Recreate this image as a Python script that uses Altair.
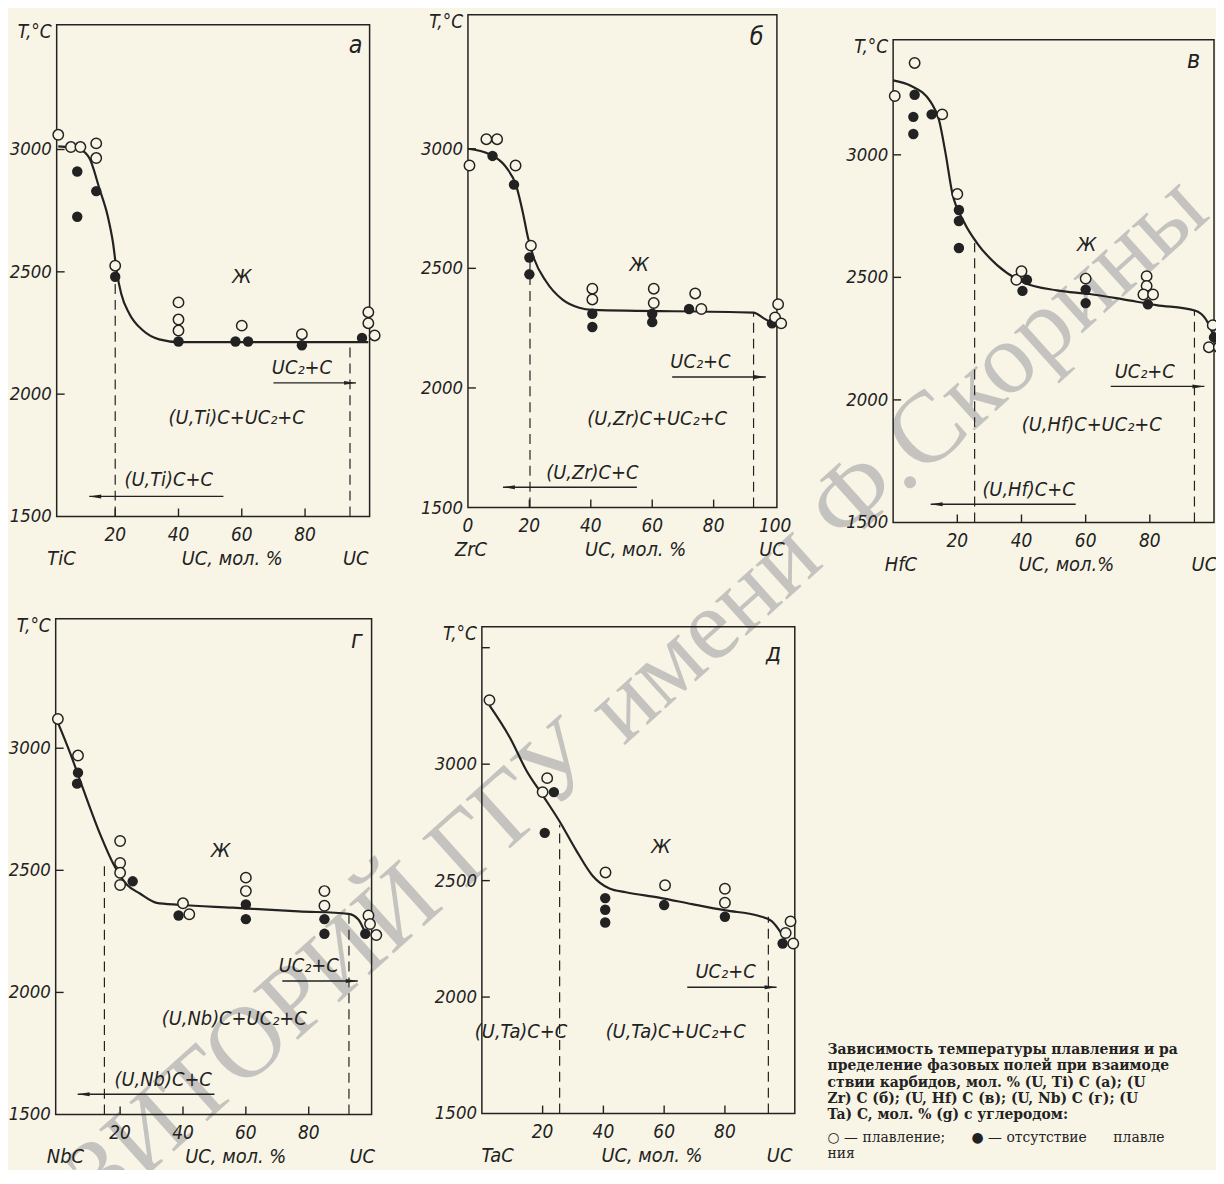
import altair as alt
import pandas as pd

BG = "#f8f5e6"
INK = "#222222"
FONT = "Liberation Sans Narrow, DejaVu Sans Condensed, Arial Narrow, sans-serif"
SERIF = "DejaVu Serif, Liberation Serif, serif"
WM_FONT = "Liberation Serif, Times New Roman, serif"

# ---------------- panel а : (U,Ti)C ----------------
A_OPEN_X = [2, 6, 9, 14, 14, 20, 40, 40, 40, 60, 79, 100, 100, 102]
A_OPEN_Y = [3060, 3010, 3010, 3025, 2965, 2525, 2375, 2305, 2260, 2280, 2245, 2335, 2290, 2240]
A_FILL_X = [8, 8, 14, 20, 40, 58, 62, 79, 98]
A_FILL_Y = [2910, 2725, 2830, 2480, 2215, 2215, 2215, 2200, 2230]
A_CURVE_X = [2, 8.8, 11.9, 15.1, 17.7, 19.3, 20.5, 21.9, 24.5, 28.7, 33.9, 40.2, 100]
A_CURVE_Y = [3013, 3000, 2963, 2836, 2724, 2619, 2500, 2410, 2328, 2261, 2224, 2213, 2213]

# ---------------- panel б : (U,Zr)C ----------------
B_OPEN_X = [0.5, 6, 9.5, 15.5, 20.5, 40.5, 40.5, 60.5, 60.5, 74, 76, 101, 100, 102]
B_OPEN_Y = [2930, 3040, 3040, 2930, 2595, 2415, 2370, 2415, 2355, 2395, 2330, 2350, 2295, 2270]
B_FILL_X = [8, 15, 20, 20, 40.5, 40.5, 60, 60, 72, 99]
B_FILL_Y = [2970, 2850, 2545, 2475, 2310, 2255, 2310, 2275, 2330, 2270]
B_CURVE_X = [0, 7, 12.4, 15.7, 17.8, 19.5, 21.6, 25.4, 30.8, 36.2, 40.5, 93, 96.2, 98.9]
B_CURVE_Y = [3000, 2977, 2923, 2846, 2738, 2631, 2538, 2446, 2369, 2335, 2326, 2315, 2292, 2272]

# ---------------- panel в : (U,Hf)C ----------------
V_OPEN_X = [0.5, 6.7, 15.3, 20, 38.4, 40, 60, 79, 79, 78, 81, 99.6, 98.4, 101.5]
V_OPEN_Y = [3240, 3375, 3165, 2840, 2490, 2525, 2495, 2505, 2465, 2430, 2430, 2305, 2215, 2215]
V_FILL_X = [6.7, 6.3, 6.3, 12, 20.5, 20.5, 20.5, 41.7, 40.3, 60, 60, 79.4, 100]
V_FILL_Y = [3245, 3155, 3085, 3165, 2775, 2730, 2620, 2490, 2445, 2450, 2395, 2390, 2255]
V_CURVE_X = [0, 5.5, 11.7, 14.3, 16.3, 18.4, 22, 26.2, 32.4, 40.7, 51, 61.3, 71.7, 82, 94, 97.5, 100]
V_CURVE_Y = [3304, 3282, 3216, 3142, 3009, 2846, 2728, 2639, 2550, 2479, 2447, 2432, 2410, 2387, 2365, 2328, 2257]

# ---------------- panel г : (U,Nb)C ----------------
G_OPEN_X = [0.2, 6.6, 20, 20, 20, 20, 40, 42, 60, 60, 85, 85, 99, 99.5, 101.5]
G_OPEN_Y = [3120, 2970, 2620, 2530, 2490, 2440, 2365, 2320, 2470, 2415, 2415, 2355, 2315, 2280, 2235]
G_FILL_X = [6.6, 6.3, 24, 38.6, 60, 60, 85, 85, 98]
G_FILL_Y = [2900, 2855, 2455, 2315, 2360, 2300, 2300, 2240, 2240]
G_CURVE_X = [0.2, 4.2, 8.4, 13.7, 17.9, 22.1, 26.3, 31.6, 38.9, 55.8, 76.8, 92.6, 95.8, 97.9]
G_CURVE_Y = [3105, 2977, 2827, 2646, 2525, 2442, 2405, 2367, 2359, 2347, 2332, 2322, 2299, 2246]

# ---------------- panel д : (U,Ta)C ----------------
D_OPEN_X = [2.5, 21.5, 20, 40.7, 60.3, 80, 80, 101.6, 100, 102.5]
D_OPEN_Y = [3275, 2940, 2880, 2535, 2480, 2465, 2405, 2325, 2275, 2230]
D_FILL_X = [23.7, 20.7, 40.6, 40.6, 40.6, 60, 80, 99]
D_FILL_Y = [2880, 2705, 2425, 2375, 2320, 2395, 2345, 2230]
D_CURVE_X = [2.5, 9.3, 14.7, 20.2, 25.6, 31.1, 36.5, 42, 47.4, 58.3, 69.2, 80.2, 91, 95.4, 98.7, 99.8]
D_CURVE_Y = [3252, 3112, 2972, 2863, 2754, 2629, 2520, 2466, 2450, 2427, 2399, 2372, 2349, 2326, 2271, 2248]

# dashed phase boundaries: x, top temperature
A_DASH = ([20, 94.2], [2480, 2213])
B_DASH = ([20.2, 93], [2545, 2315])
V_DASH = ([25.4, 93.9], [2640, 2365])
G_DASH = ([15, 92.8], [2525, 2322])
D_DASH = ([25.6, 94.3], [2740, 2345])

# field labels: text, x, y
A_TEXT = (["Ж", "UC₂+C", "(U,Ti)C+UC₂+C", "(U,Ti)C+C"], [60, 79, 58.4, 36.9], [2480, 2105, 1904, 1650])
B_TEXT = (["Ж", "UC₂+C", "(U,Zr)C+UC₂+C", "(U,Zr)C+C"], [55.7, 75.7, 61.6, 40.5], [2515, 2108, 1869, 1646])
V_TEXT = (["Ж", "UC₂+C", "(U,Hf)C+UC₂+C", "(U,Hf)C+C"], [60.3, 78.4, 61.9, 42.2], [2631, 2114, 1899, 1633])
G_TEXT = (["Ж", "UC₂+C", "(U,Nb)C+UC₂+C", "(U,Nb)C+C"], [52, 80, 56.3, 33.7], [2578, 2110, 1892, 1643])
D_TEXT = (["Ж", "UC₂+C", "(U,Ta)C+UC₂+C", "(U,Ta)C+C"], [58.9, 80.2, 63.8, 12.9], [2645, 2107, 1850, 1850])

# arrows: x_from, x_to, y
A_ARROWS = ([70, 54.2], [96.1, 11.8], [2046, 1582])
B_ARROWS = ([66.5, 55], [97, 11.4], [2046, 1585])
V_ARROWS = ([67.8, 56.9], [97, 11.7], [2055, 1574])
G_ARROWS = ([71.6, 50], [95.6, 6.5], [2047, 1583])
D_ARROWS = ([67.6], [97], [2042])

# panel letters
LETTERS = ["а", "б", "в", "г", "д"]
LETTER_POS = [(96, 3428), (94, 3469), (93.6, 3386), (95.3, 3442), (96, 3478)]

# bottom names: text, x centre
A_NAMES = (["TiC", "UC, мол. %", "UC"], [3, 57, 96])
B_NAMES = (["ZrC", "UC, мол. %", "UC"], [1, 54.6, 99])
V_NAMES = (["HfC", "UC, мол.%", "UC"], [2.4, 54, 97])
G_NAMES = (["NbC", "UC, мол. %", "UC"], [2.6, 56.8, 97])
D_NAMES = (["TaC", "UC, мол. %", "UC"], [5.2, 56, 98])

Y_LABELS = [1500, 2000, 2500, 3000]
X_LABELS = [20, 40, 60, 80]
B_X_LABELS = [0, 20, 40, 60, 80, 100]
TICKS_X = [20, 40, 60, 80]

NB = "\u00a0"
CAPTION = [
    "Зависимость температуры плавления и ра",
    "пределение фазовых полей при взаимоде",
    "ствии карбидов, мол. % (U, Ti) C (а); (U",
    "Zr) C (б); (U, Hf) C (в); (U, Nb) C (г); (U",
    "Ta) C, мол. % (g) с углеродом:",
    "○ — плавление;" + NB * 6 + "● — отсутствие" + NB * 6 + "плавле",
    "ния",
]
CAPTION_BOLD = [True, True, True, True, True, False, False]
CAPTION_ROW = [0, 1, 2, 3, 4, 5.35, 6.35]

WATERMARK = "РЕПОЗИТОРИЙ ГГУ имени Ф.Скорины"

ARROW_R = "M0,0 L-2,-0.33 L-2,0.33 Z"
ARROW_L = "M0,0 L2,-0.33 L2,0.33 Z"

# frame boxes (x0, x1, top, bottom) in chart pixels
BOX = {
    "a": (49, 364, 13, 508),
    "b": (463, 774, 3, 499),
    "v": (891, 1214, 28, 514),
    "g": (48, 366, 611, 1110),
    "d": (477, 792, 619, 1109),
}


def panel(box, xdom, ydom, open_xy, fill_xy, curve_xy, dash, texts, arrows, letter,
          names, xlabels, yticks):
    x0, x1, top, bot = box
    xs = alt.Scale(domain=xdom, range=[x0, x1], nice=False, zero=False)
    ys = alt.Scale(domain=ydom, range=[bot, top], nice=False, zero=False)

    def X(f):
        return alt.X(f, type="quantitative", scale=xs, axis=None)

    def Y(f):
        return alt.Y(f, type="quantitative", scale=ys, axis=None)

    L = []
    frame = alt.Chart(pd.DataFrame({"a": [xdom[0]], "b": [xdom[1]], "c": [ydom[0]], "d": [ydom[1]]}))
    L.append(frame.mark_rect(fillOpacity=0, stroke=INK, strokeWidth=1.5).encode(
        x=X("a"), x2=alt.X2("b"), y=Y("c"), y2=alt.Y2("d")))

    dashdf = pd.DataFrame({"x": dash[0], "top": dash[1], "bot": [ydom[0]] * len(dash[0])})
    L.append(alt.Chart(dashdf).mark_rule(color=INK, strokeWidth=1.2, strokeDash=[10, 6]).encode(
        x=X("x"), y=Y("bot"), y2=alt.Y2("top")))

    L.append(alt.Chart(pd.DataFrame({"v": yticks})).mark_rule(color=INK, strokeWidth=1.4).encode(
        y=Y("v"), x=alt.value(x0), x2=alt.value(x0 + 8)))
    L.append(alt.Chart(pd.DataFrame({"v": TICKS_X})).mark_rule(color=INK, strokeWidth=1.4).encode(
        x=X("v"), y=alt.value(bot), y2=alt.value(bot - 8)))

    L.append(alt.Chart(pd.DataFrame({"x": curve_xy[0], "y": curve_xy[1]})).mark_line(
        interpolate="monotone", color=INK, strokeWidth=2.2).encode(x=X("x"), y=Y("y")))

    adf = pd.DataFrame({"x0": arrows[0], "x1": arrows[1], "y": arrows[2]})
    L.append(alt.Chart(adf).mark_rule(color=INK, strokeWidth=1.4).encode(
        x=X("x0"), x2=alt.X2("x1"), y=Y("y")))
    rdf = adf[adf["x1"] > adf["x0"]]
    ldf = adf[adf["x1"] < adf["x0"]]
    if len(rdf):
        L.append(alt.Chart(rdf).mark_point(shape=ARROW_R, filled=True, color=INK, size=144,
                                           opacity=1).encode(x=X("x1"), y=Y("y")))
    if len(ldf):
        L.append(alt.Chart(ldf).mark_point(shape=ARROW_L, filled=True, color=INK, size=144,
                                           opacity=1).encode(x=X("x1"), y=Y("y")))

    L.append(alt.Chart(pd.DataFrame({"x": fill_xy[0], "y": fill_xy[1]})).mark_circle(
        color=INK, size=110, opacity=1).encode(x=X("x"), y=Y("y")))
    L.append(alt.Chart(pd.DataFrame({"x": open_xy[0], "y": open_xy[1]})).mark_point(
        shape="circle", filled=True, fill=BG, stroke=INK, strokeWidth=1.5, size=110,
        opacity=1).encode(x=X("x"), y=Y("y")))

    L.append(alt.Chart(pd.DataFrame({"t": texts[0], "x": texts[1], "y": texts[2]})).mark_text(
        font=FONT, fontSize=20, fontStyle="italic", color=INK).encode(
        x=X("x"), y=Y("y"), text="t:N"))
    L.append(alt.Chart(pd.DataFrame({"t": [letter[0]], "x": [letter[1]], "y": [letter[2]]})).mark_text(
        font=FONT, fontSize=25, fontStyle="italic", color=INK).encode(
        x=X("x"), y=Y("y"), text="t:N"))

    # tick labels, axis title and component names
    L.append(alt.Chart(pd.DataFrame({"v": xlabels, "t": [str(v) for v in xlabels]})).mark_text(
        font=FONT, fontSize=19, fontStyle="italic", color=INK, baseline="middle").encode(
        x=X("v"), y=alt.value(bot + 19), text="t:N"))
    L.append(alt.Chart(pd.DataFrame({"v": Y_LABELS, "t": [str(v) for v in Y_LABELS]})).mark_text(
        font=FONT, fontSize=18.5, fontStyle="italic", color=INK, align="right",
        baseline="middle").encode(y=Y("v"), x=alt.value(x0 - 5), text="t:N"))
    L.append(alt.Chart(pd.DataFrame({"t": ["T,°C"]})).mark_text(
        font=FONT, fontSize=19, fontStyle="italic", color=INK, align="right",
        baseline="middle").encode(x=alt.value(x0 - 5), y=alt.value(top + 7), text="t:N"))
    L.append(alt.Chart(pd.DataFrame({"t": names[0], "x": names[1]})).mark_text(
        font=FONT, fontSize=20, fontStyle="italic", color=INK, baseline="middle").encode(
        x=X("x"), y=alt.value(bot + 43), text="t:N"))
    return L


layers = []
# watermark (beneath everything)
layers.append(alt.Chart(pd.DataFrame({"t": [WATERMARK]})).mark_text(
    font=WM_FONT, fontSize=102, color="#c4c3bf", align="right", baseline="alphabetic",
    angle=318).encode(x=alt.value(1212), y=alt.value(206), text="t:N"))

layers += panel(BOX["a"], [1.5, 100.4], [1500, 3510], (A_OPEN_X, A_OPEN_Y), (A_FILL_X, A_FILL_Y),
                (A_CURVE_X, A_CURVE_Y), A_DASH, A_TEXT, A_ARROWS, (LETTERS[0],) + LETTER_POS[0],
                A_NAMES, X_LABELS, [2000, 2500, 3000])
layers += panel(BOX["b"], [0, 100.6], [1500, 3560], (B_OPEN_X, B_OPEN_Y), (B_FILL_X, B_FILL_Y),
                (B_CURVE_X, B_CURVE_Y), B_DASH, B_TEXT, B_ARROWS, (LETTERS[1],) + LETTER_POS[1],
                B_NAMES, B_X_LABELS, [2000, 2500, 3000])
layers += panel(BOX["v"], [0, 100], [1500, 3470], (V_OPEN_X, V_OPEN_Y), (V_FILL_X, V_FILL_Y),
                (V_CURVE_X, V_CURVE_Y), V_DASH, V_TEXT, V_ARROWS, (LETTERS[2],) + LETTER_POS[2],
                V_NAMES, X_LABELS, [2000, 2500, 3000])
layers += panel(BOX["g"], [-0.5, 100], [1500, 3530], (G_OPEN_X, G_OPEN_Y), (G_FILL_X, G_FILL_Y),
                (G_CURVE_X, G_CURVE_Y), G_DASH, G_TEXT, G_ARROWS, (LETTERS[3],) + LETTER_POS[3],
                G_NAMES, X_LABELS, [2000, 2500, 3000])
layers += panel(BOX["d"], [0, 103], [1500, 3590], (D_OPEN_X, D_OPEN_Y), (D_FILL_X, D_FILL_Y),
                (D_CURVE_X, D_CURVE_Y), D_DASH, D_TEXT, D_ARROWS, (LETTERS[4],) + LETTER_POS[4],
                D_NAMES, X_LABELS, [2000, 2500, 3000, 3500])

# caption (bottom right)
CAP_X = 825
CAP_Y0 = 1045
CAP_STEP = 16.5
capdf = pd.DataFrame({"t": CAPTION, "b": CAPTION_BOLD,
                      "py": [CAP_Y0 + r * CAP_STEP for r in CAPTION_ROW]})
cap_scale = alt.Scale(domain=[0, 1162], range=[0, 1162])
layers.append(alt.Chart(capdf[capdf["b"]]).mark_text(
    font=SERIF, fontSize=14, fontWeight="bold", color=INK, align="left", baseline="middle").encode(
    x=alt.value(CAP_X), y=alt.Y("py:Q", scale=cap_scale, axis=None), text="t:N"))
layers.append(alt.Chart(capdf[~capdf["b"]]).mark_text(
    font=SERIF, fontSize=14, color=INK, align="left", baseline="middle").encode(
    x=alt.value(CAP_X), y=alt.Y("py:Q", scale=cap_scale, axis=None), text="t:N"))

chart = alt.layer(*layers).resolve_scale(x="independent", y="independent").properties(
    width=1216, height=1162, autosize=alt.AutoSizeParams(type="none"),
    padding={"left": 0, "top": 0, "right": 0, "bottom": 0},
).configure(background=BG).configure_view(strokeOpacity=0, strokeWidth=0)

chart.save("out.html", embed_options={"renderer": "svg", "actions": False})
